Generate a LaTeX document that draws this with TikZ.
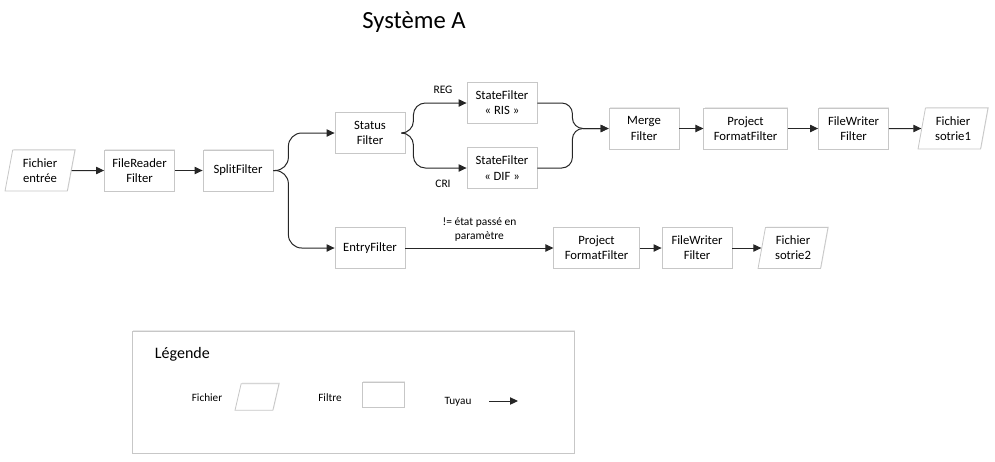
\documentclass[tikz,border=0pt]{standalone}
\usepackage{fontspec}
\setmainfont{Carlito}
\usetikzlibrary{shapes.geometric,arrows.meta,shadows}

\tikzset{every picture/.style={line width=0.75pt}}
\tikzset{
  filtre/.style={draw=black!22, fill=white, line width=0.6pt, align=center, inner sep=1pt,
    minimum width=52.5pt, minimum height=30.75pt,
    drop shadow={shadow xshift=0.7pt, shadow yshift=0.7pt, opacity=0.18},
    font=\fontsize{9.5}{11.4}\selectfont},
  fichier/.style={filtre, shape=trapezium, trapezium left angle=79, trapezium right angle=101,
    trapezium stretches=true},
  tuyau/.style={draw=black!85, line width=0.75pt, -{Triangle[length=6pt,width=5.5pt]}},
  etiq/.style={font=\fontsize{8.6}{10.5}\selectfont, align=center, inner sep=0.75pt}
}

\begin{document}
\begin{tikzpicture}[x=0.75pt,y=0.75pt,yscale=-1,xscale=1]
\useasboundingbox (0,0) rectangle (995,461);

% Title
\node (titre) at (414,22) {\fontsize{18.5}{22}\selectfont Système A};

%Shape: first row
\node [fichier] (entree) at (40,170.5) {Fichier\\entrée};
\node [filtre] (reader) at (139.5,170.5) {FileReader\\Filter};
\node [filtre] (split) at (238,170.5) {SplitFilter};
\node [filtre] (status) at (370,133) {Status\\Filter};
\node [filtre] (ris) at (502,103) {StateFilter\\« RIS »};
\node [filtre] (dif) at (502,168) {StateFilter\\« DIF »};
\node [filtre] (merge) at (644,128.5) {Merge\\Filter};
\node [filtre, minimum width=62.5pt] (project) at (745.5,128.5) {Project\\FormatFilter};
\node [filtre] (writer) at (853.5,128.5) {FileWriter\\Filter};
\node [fichier] (sortie) at (953,128.5) {Fichier\\sotrie1};

%Shape: second row
\node [filtre] (entry) at (370,248) {EntryFilter};
\node [filtre, minimum width=64pt] (projectb) at (596.5,248) {Project\\FormatFilter};
\node [filtre] (writerb) at (697,248) {FileWriter\\Filter};
\node [fichier] (sortieb) at (793,248) {Fichier\\sotrie2};

%Straight Lines
\draw [tuyau] (entree) -- (reader);
\draw [tuyau] (reader) -- (split);
\draw [tuyau] (merge) -- (project);
\draw [tuyau] (project) -- (writer);
\draw [tuyau] (writer) -- (sortie);
\draw [tuyau] (entry) -- (projectb) node [etiq, midway, above=4pt] {!= état passé en\\paramètre};
\draw [tuyau] (projectb) -- (writerb);
\draw [tuyau] (writerb) -- (sortieb);

%Curve Lines
\draw [tuyau, rounded corners=10pt] (split.east) -- ++(15,0) |- (status.west);
\draw [tuyau, rounded corners=10pt] (split.east) -- ++(15,0) |- (entry.west);
\draw [tuyau, rounded corners=9pt] (status.east) -- ++(8,0) |- (ris.west);
\draw [tuyau, rounded corners=9pt] (status.east) -- ++(8,0) |- (dif.west);
\draw [tuyau, rounded corners=8pt] (ris.east) -- ++(35,0) |- (merge.west);
\draw [tuyau, rounded corners=8pt] (dif.east) -- ++(35,0) |- (merge.west);

% Text Node
\node [etiq] (reg) at (443,90) {REG};
\node [etiq] (cri) at (443,184) {CRI};

%Shape: legend
\draw [draw=black!22, fill=white, line width=0.6pt, drop shadow={shadow xshift=0.7pt, shadow yshift=0.7pt, opacity=0.18}] (132,331) rectangle (574,453);
\node [anchor=west, font=\fontsize{12}{14}\selectfont] (legende) at (150,354) {Légende};
\node [etiq, font=\fontsize{8.4}{10}\selectfont] (lfichier) at (207,398) {Fichier};
\node [fichier, minimum width=33pt, minimum height=20pt] (lpara) at (257,397) {};
\node [etiq, font=\fontsize{8.4}{10}\selectfont] (lfiltre) at (330,398) {Filtre};
\node [filtre, minimum width=31.5pt, minimum height=19pt] (lrect) at (383,395) {};
\node [etiq, font=\fontsize{8.4}{10}\selectfont] (ltuyau) at (458,402) {Tuyau};
\coordinate (ldebut) at (489,401);
\coordinate (lfin) at (518,401);
\draw [tuyau] (ldebut) -- (lfin);

\end{tikzpicture}
\end{document}
